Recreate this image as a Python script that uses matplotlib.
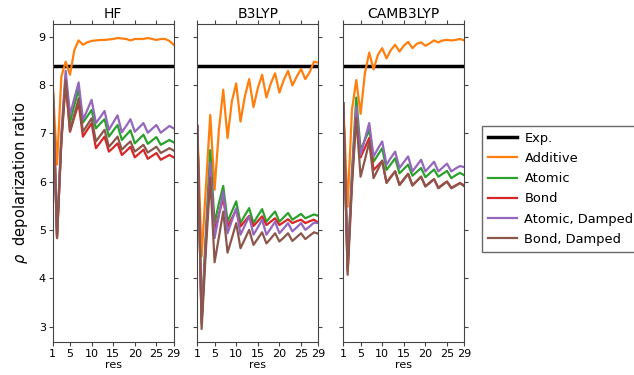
import matplotlib
matplotlib.use("Agg")
import matplotlib.pyplot as plt
import numpy as np

res = np.arange(1, 30)
xticks = [1, 5, 10, 15, 20, 25, 29]
exp_value = 8.4

methods = ["HF", "B3LYP", "CAMB3LYP"]
labels = ["Additive", "Atomic", "Bond", "Atomic, Damped", "Bond, Damped"]
colors = ["#ff7f0e", "#2ca02c", "#d62728", "#9467bd", "#8c564b"]

hf_additive = [8.03, 6.35, 8.17, 8.48, 8.21, 8.72, 8.92, 8.83, 8.88, 8.91, 8.92, 8.93, 8.93, 8.94, 8.95,
               8.97, 8.96, 8.95, 8.92, 8.95, 8.95, 8.95, 8.97, 8.95, 8.93, 8.95, 8.95, 8.91, 8.83]
hf_atomic = [8.0, 4.87, 6.9, 8.17, 7.22, 7.58, 7.91, 7.22, 7.35, 7.48, 7.10, 7.20, 7.29, 6.93, 7.05,
             7.17, 6.86, 6.96, 7.06, 6.79, 6.88, 6.97, 6.78, 6.85, 6.92, 6.76, 6.81, 6.86, 6.81]
hf_bond = [8.0, 4.83, 6.8, 8.05, 7.03, 7.33, 7.62, 6.93, 7.07, 7.21, 6.69, 6.81, 6.93, 6.62, 6.70,
           6.79, 6.55, 6.63, 6.72, 6.50, 6.58, 6.66, 6.47, 6.53, 6.59, 6.45, 6.50, 6.55, 6.50]
hf_atomic_damped = [8.0, 4.9, 7.0, 8.29, 7.38, 7.72, 8.05, 7.28, 7.48, 7.69, 7.21, 7.33, 7.46, 7.07, 7.22,
                    7.37, 7.02, 7.15, 7.29, 7.03, 7.12, 7.21, 7.01, 7.09, 7.17, 7.01, 7.08, 7.15, 7.10]
hf_bond_damped = [8.0, 4.84, 6.85, 8.10, 7.05, 7.38, 7.72, 7.03, 7.17, 7.31, 6.83, 6.95, 7.07, 6.72, 6.82,
                  6.93, 6.66, 6.75, 6.83, 6.62, 6.69, 6.76, 6.60, 6.66, 6.72, 6.59, 6.64, 6.69, 6.64]

b3_additive = [7.15, 4.45, 5.9, 7.38, 5.83, 7.07, 7.90, 6.90, 7.66, 8.03, 7.24, 7.76, 8.12, 7.54, 7.93,
               8.21, 7.74, 8.03, 8.24, 7.84, 8.10, 8.29, 7.99, 8.17, 8.33, 8.12, 8.26, 8.48, 8.46]
b3_atomic = [7.15, 3.15, 5.0, 6.65, 5.14, 5.55, 5.91, 5.17, 5.38, 5.59, 5.14, 5.30, 5.45, 5.14, 5.29,
             5.43, 5.17, 5.28, 5.38, 5.17, 5.26, 5.35, 5.21, 5.27, 5.33, 5.24, 5.28, 5.32, 5.29]
b3_bond = [7.15, 3.1, 4.8, 6.3, 4.97, 5.32, 5.66, 5.07, 5.24, 5.41, 5.07, 5.18, 5.29, 5.08, 5.18,
           5.28, 5.10, 5.17, 5.24, 5.10, 5.16, 5.22, 5.14, 5.18, 5.21, 5.14, 5.18, 5.21, 5.15]
b3_atomic_damped = [7.15, 3.05, 4.8, 6.4, 4.83, 5.3, 5.79, 4.93, 5.19, 5.45, 4.90, 5.09, 5.28, 4.90, 5.05,
                    5.21, 4.90, 5.03, 5.17, 4.93, 5.03, 5.14, 4.97, 5.05, 5.14, 5.0, 5.07, 5.15, 5.14]
b3_bond_damped = [7.15, 2.95, 4.6, 6.08, 4.33, 4.85, 5.38, 4.53, 4.83, 5.14, 4.62, 4.81, 5.0, 4.69, 4.82,
                  4.95, 4.72, 4.82, 4.93, 4.76, 4.84, 4.93, 4.77, 4.85, 4.93, 4.81, 4.88, 4.95, 4.92]

cam_additive = [7.62, 5.48, 7.48, 8.10, 7.40, 8.24, 8.67, 8.32, 8.62, 8.76, 8.55, 8.72, 8.83, 8.69, 8.81,
                8.89, 8.76, 8.85, 8.88, 8.81, 8.86, 8.92, 8.88, 8.92, 8.93, 8.92, 8.93, 8.95, 8.92]
cam_atomic = [7.62, 4.2, 6.2, 7.74, 6.65, 6.86, 7.07, 6.41, 6.55, 6.69, 6.24, 6.36, 6.48, 6.17, 6.26,
              6.35, 6.12, 6.20, 6.28, 6.09, 6.17, 6.25, 6.10, 6.16, 6.22, 6.07, 6.13, 6.18, 6.13]
cam_bond = [7.62, 4.15, 6.0, 7.45, 6.5, 6.7, 6.9, 6.24, 6.33, 6.43, 5.98, 6.10, 6.21, 5.93, 6.05,
            6.16, 5.92, 6.01, 6.10, 5.90, 5.98, 6.05, 5.87, 5.94, 6.00, 5.87, 5.92, 5.97, 5.92]
cam_atomic_damped = [7.62, 4.3, 6.1, 7.55, 6.55, 6.88, 7.21, 6.52, 6.68, 6.83, 6.35, 6.49, 6.62, 6.28, 6.40,
                     6.52, 6.21, 6.33, 6.45, 6.21, 6.31, 6.41, 6.21, 6.29, 6.37, 6.21, 6.27, 6.32, 6.30]
cam_bond_damped = [7.62, 4.07, 5.9, 7.32, 6.10, 6.45, 6.82, 6.07, 6.25, 6.43, 5.97, 6.09, 6.21, 5.93, 6.04,
                   6.16, 5.92, 6.01, 6.10, 5.90, 5.97, 6.05, 5.86, 5.93, 6.00, 5.86, 5.91, 5.97, 5.90]

series = {
    "HF": [hf_additive, hf_atomic, hf_bond, hf_atomic_damped, hf_bond_damped],
    "B3LYP": [b3_additive, b3_atomic, b3_bond, b3_atomic_damped, b3_bond_damped],
    "CAMB3LYP": [cam_additive, cam_atomic, cam_bond, cam_atomic_damped, cam_bond_damped],
}

fig = plt.figure(figsize=(6.34, 3.75), dpi=100)
lefts = [52.7, 197.3, 343.3]
W, H = 634.0, 375.0
ax_w = 121.0 / W
bottom = 1 - 342.0 / H
height = (342.0 - 24.0) / H

axes = []
for i, (name, left) in enumerate(zip(methods, lefts)):
    ax = fig.add_axes([left / W, bottom, ax_w, height])
    axes.append(ax)
    ax.axhline(exp_value, color="black", linewidth=2.5, label="Exp.")
    for vals, lab, col in zip(series[name], labels, colors):
        ax.plot(res, vals, color=col, linewidth=1.6, label=lab)
    ax.set_xlim(1, 29)
    ax.set_ylim(2.68, 9.26)
    ax.set_xticks(xticks)
    ax.set_yticks([3, 4, 5, 6, 7, 8, 9])
    ax.set_title(name, fontsize=10, pad=4)
    ax.set_xlabel("res", fontsize=8, labelpad=1)
    ax.tick_params(direction="out", top=True, right=True, labelsize=8,
                   length=3, pad=2, color="#444444")
    for sp in ax.spines.values():
        sp.set_color("#444444")
    if i > 0:
        ax.tick_params(labelleft=False)

axes[0].set_ylabel(r"$\rho$  depolarization ratio", fontsize=10.5, labelpad=6)

handles, labs = axes[0].get_legend_handles_labels()
fig.legend(handles, labs, loc="upper left", bbox_to_anchor=(482.0 / W, 1 - 126.0 / H),
           fontsize=9.4, frameon=True, fancybox=False, edgecolor="#444444",
           handlelength=2.2, handletextpad=0.6, labelspacing=0.55,
           borderpad=0.45, borderaxespad=0.0)

fig.savefig("out.png", dpi=100)
